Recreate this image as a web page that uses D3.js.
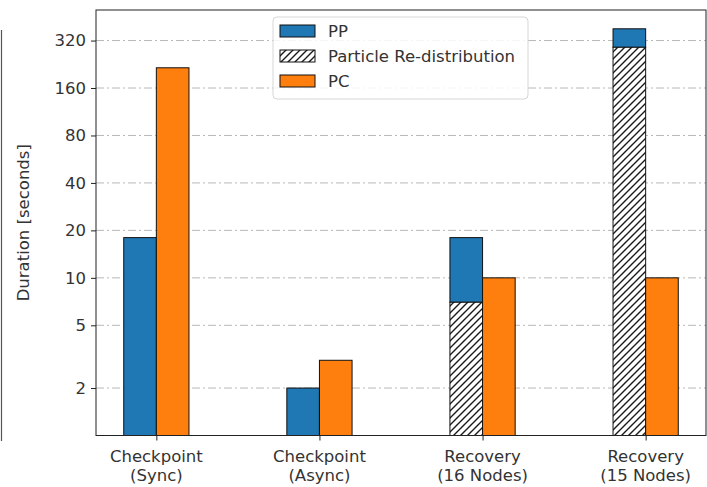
<!DOCTYPE html>
<html>
<head>
<meta charset="utf-8">
<script src="https://cdn.jsdelivr.net/npm/d3@7"></script>
<style>
  html, body { margin: 0; padding: 0; background: #fff; }
  svg { display: block; font-family: "DejaVu Sans", sans-serif; }
</style>
</head>
<body>
<svg id="chart" width="707" height="487"></svg>
<script>
// ---- data ----
const categories = [["Checkpoint", "(Sync)"], ["Checkpoint", "(Async)"], ["Recovery", "(16 Nodes)"], ["Recovery", "(15 Nodes)"]];
const redistribution = [0, 0, 7, 290];   // hatched segment (bottom of stack)
const pp = [18, 2, 11, 90];              // PP segment (stacked on top of redistribution)
const pc = [215, 3, 10, 10];
const yTicks = [2, 5, 10, 20, 40, 80, 160, 320];
const legendLabels = ["PP", "Particle Re-distribution", "PC"];

const colors = { pp: "#1f77b4", pc: "#ff7f0e" };
const FS = 16.5;

const svg = d3.select("#chart");
const L = 96, R = 706, T = 10, B = 435.5;
const barW = 0.2;

const x = d3.scaleLinear().domain([-0.37, 3.37]).range([L, R]);
const y = d3.scaleLog().base(2).domain([1, 500]).range([B, T]);

// hatch pattern
const defs = svg.append("defs");
const P = 7;
const pat = defs.append("pattern").attr("id", "hatch").attr("patternUnits", "userSpaceOnUse")
  .attr("width", P).attr("height", P);
pat.append("rect").attr("width", P).attr("height", P).attr("fill", "#fff");
pat.append("path").attr("d", `M-1,1 l2,-2 M0,${P} l${P},-${P} M${P-1},${P+1} l2,-2`)
  .attr("stroke", "#1a1a1a").attr("stroke-width", 1.4);

// left artifact line
svg.append("line").attr("x1", 1.5).attr("x2", 1.5).attr("y1", 30).attr("y2", 441)
  .attr("stroke", "#555").attr("stroke-width", 1.2);

// grid
svg.append("g").selectAll("line").data(yTicks).join("line")
  .attr("x1", L).attr("x2", R).attr("y1", d => y(d)).attr("y2", d => y(d))
  .attr("stroke", "#b0b0b0").attr("stroke-width", 0.9).attr("stroke-dasharray", "8,3,2,3");

const idx = d3.range(categories.length);
const g = svg.append("g");

idx.forEach(i => {
  const base = redistribution[i] > 0 ? redistribution[i] : 1;
  const top = redistribution[i] + pp[i];
  g.append("rect")
    .attr("x", x(i - barW)).attr("width", x(barW) - x(0))
    .attr("y", y(top)).attr("height", y(base) - y(top))
    .attr("fill", colors.pp).attr("stroke", "#111").attr("stroke-width", 1);
  if (redistribution[i] > 0) {
    g.append("rect")
      .attr("x", x(i - barW)).attr("width", x(barW) - x(0))
      .attr("y", y(redistribution[i])).attr("height", y(1) - y(redistribution[i]))
      .attr("fill", "url(#hatch)").attr("stroke", "#111").attr("stroke-width", 1);
  }
  g.append("rect")
    .attr("x", x(i)).attr("width", x(barW) - x(0))
    .attr("y", y(pc[i])).attr("height", y(1) - y(pc[i]))
    .attr("fill", colors.pc).attr("stroke", "#111").attr("stroke-width", 1);
});

// frame
svg.append("rect").attr("x", L).attr("y", T).attr("width", R - L).attr("height", B - T)
  .attr("fill", "none").attr("stroke", "#222").attr("stroke-width", 1);

// y axis
const yAxis = svg.append("g").attr("transform", `translate(${L},0)`)
  .call(d3.axisLeft(y).tickValues(yTicks).tickFormat(d3.format("d")).tickSize(5).tickPadding(5));
yAxis.select(".domain").remove();
yAxis.selectAll("line").attr("stroke", "#222");
yAxis.selectAll("text").attr("font-size", FS).attr("fill", "#333").attr("font-family", "DejaVu Sans");

// x axis
const xAxis = svg.append("g").attr("transform", `translate(0,${B})`)
  .call(d3.axisBottom(x).tickValues(idx).tickFormat("").tickSize(5));
xAxis.select(".domain").remove();
xAxis.selectAll("line").attr("stroke", "#222");
const xl = svg.append("g").selectAll("text").data(idx).join("text")
  .attr("x", d => x(d)).attr("y", B + 26)
  .attr("text-anchor", "middle").attr("font-size", FS).attr("fill", "#333");
xl.append("tspan").attr("x", d => x(d)).text(d => categories[d][0]);
xl.append("tspan").attr("x", d => x(d)).attr("dy", 19).text(d => categories[d][1]);

// y label
svg.append("text").attr("transform", `translate(29,${(T + B) / 2}) rotate(-90)`)
  .attr("text-anchor", "middle").attr("font-size", FS).attr("fill", "#333")
  .text("Duration [seconds]");

// legend
const lg = svg.append("g");
lg.append("rect").attr("x", 273).attr("y", 17).attr("width", 255).attr("height", 82)
  .attr("rx", 4).attr("fill", "#fff").attr("fill-opacity", 0.85)
  .attr("stroke", "#d6d6d6").attr("stroke-width", 1);
const fills = [colors.pp, "url(#hatch)", colors.pc];
legendLabels.forEach((lab, k) => {
  const cy = 31 + k * 25;
  lg.append("rect").attr("x", 280).attr("y", cy - 6).attr("width", 35).attr("height", 12)
    .attr("fill", fills[k]).attr("stroke", "#111").attr("stroke-width", 1);
  lg.append("text").attr("x", 328).attr("y", cy).attr("dy", "0.36em")
    .attr("font-size", FS).attr("fill", "#333").text(lab);
});
</script>
</body>
</html>
